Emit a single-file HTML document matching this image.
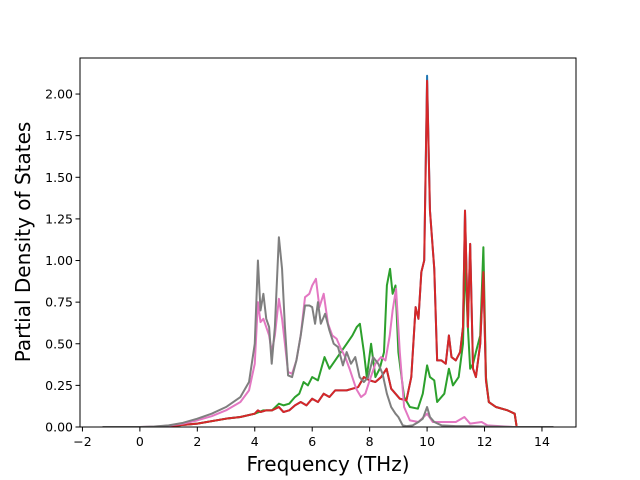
<!DOCTYPE html>
<html><head><meta charset="utf-8"><style>body{margin:0;background:#fff}svg{display:block;font-family:"DejaVu Sans","Liberation Sans",sans-serif}</style></head>
<body>
<svg id="chart" width="640" height="480">
<rect x="0" y="0" width="640" height="480" fill="#fff"/>
<defs><clipPath id="clip"><rect x="80" y="58" width="496" height="369"/></clipPath></defs>
<g id="plot" clip-path="url(#clip)"></g>
<g id="axes"></g>
<text x="328" y="471" text-anchor="middle" font-size="20">Frequency (THz)</text>
<text x="0" y="0" transform="translate(30,242) rotate(-90)" text-anchor="middle" font-size="20">Partial Density of States</text>
</svg>
<script>
const xTicks=[-2,0,2,4,6,8,10,12,14];
const yTicks=[0,0.25,0.5,0.75,1.0,1.25,1.5,1.75,2.0];
const yTickLabels=["0.00","0.25","0.50","0.75","1.00","1.25","1.50","1.75","2.00"];
const grayFreq=[-1.3,0,0.5,1,1.5,2,2.5,3,3.5,3.8,4.0,4.11,4.2,4.3,4.4,4.5,4.59,4.7,4.84,4.95,5.05,5.16,5.3,5.45,5.6,5.75,5.9,6.0,6.1,6.2,6.3,6.45,6.6,6.75,6.9,7.07,7.2,7.35,7.5,7.65,7.8,7.95,8.12,8.3,8.45,8.6,8.75,8.9,9.0,9.15,9.3,9.5,9.7,9.85,10.0,10.1,10.25,10.5,11,11.5,12,12.5,13,14.4];
const grayValues=[0,0,0.003,0.01,0.025,0.05,0.08,0.12,0.18,0.27,0.5,1.0,0.7,0.8,0.65,0.6,0.38,0.6,1.14,0.95,0.6,0.31,0.3,0.4,0.55,0.73,0.73,0.72,0.62,0.75,0.62,0.68,0.58,0.5,0.48,0.37,0.45,0.38,0.42,0.3,0.27,0.3,0.42,0.38,0.32,0.2,0.12,0.08,0.06,0.01,0.005,0.01,0.03,0.05,0.12,0.06,0.03,0.01,0.005,0.005,0.003,0.002,0,0];
const pinkFreq=[-1.3,0,0.5,1,1.5,2,2.5,3,3.5,3.8,4.0,4.11,4.2,4.3,4.4,4.5,4.59,4.7,4.84,4.95,5.05,5.16,5.3,5.45,5.6,5.75,5.9,6.0,6.13,6.25,6.4,6.55,6.7,6.85,7.0,7.15,7.3,7.53,7.7,7.85,8.0,8.2,8.4,8.55,8.7,8.8,8.92,9.05,9.2,9.4,9.7,10.0,10.2,10.6,11.0,11.3,11.5,11.9,12.1,13,14.4];
const pinkValues=[0,0,0.002,0.008,0.02,0.04,0.065,0.1,0.15,0.22,0.38,0.75,0.63,0.65,0.6,0.55,0.45,0.55,0.77,0.65,0.5,0.33,0.32,0.4,0.55,0.78,0.8,0.85,0.89,0.72,0.8,0.62,0.55,0.53,0.47,0.42,0.35,0.23,0.18,0.2,0.28,0.38,0.42,0.4,0.55,0.7,0.83,0.45,0.12,0.04,0.03,0.08,0.03,0.03,0.03,0.06,0.02,0.03,0.01,0,0];
const greenFreq=[-1.3,0,0.5,1,2,3,3.5,4.0,4.3,4.6,4.84,5.0,5.2,5.4,5.55,5.7,5.85,6.0,6.2,6.43,6.6,6.8,7.0,7.2,7.4,7.55,7.66,7.8,7.9,8.05,8.2,8.35,8.5,8.6,8.71,8.8,8.9,9.0,9.2,9.4,9.68,9.85,10.0,10.1,10.25,10.35,10.6,10.76,10.9,11.1,11.25,11.32,11.42,11.5,11.6,11.7,11.85,11.96,12.05,12.15,12.4,12.8,13.05,13.12,14.4];
const greenValues=[0,0,0,0.005,0.02,0.05,0.06,0.08,0.1,0.1,0.14,0.13,0.14,0.18,0.2,0.27,0.25,0.3,0.28,0.42,0.35,0.4,0.45,0.5,0.55,0.6,0.62,0.45,0.3,0.5,0.3,0.35,0.45,0.85,0.95,0.8,0.85,0.45,0.18,0.12,0.11,0.2,0.37,0.3,0.28,0.15,0.2,0.35,0.25,0.3,0.5,1.0,0.6,0.35,0.38,0.45,0.55,1.08,0.3,0.15,0.12,0.1,0.08,0,0];
const redFreq=[-1.3,0,0.5,1,2,3,3.5,4.0,4.11,4.2,4.4,4.6,4.84,5.0,5.2,5.4,5.6,5.8,6.0,6.2,6.4,6.6,6.8,7.0,7.2,7.4,7.6,7.8,8.0,8.2,8.4,8.59,8.75,8.9,9.05,9.28,9.45,9.6,9.7,9.8,9.9,10.0,10.1,10.25,10.35,10.5,10.65,10.76,10.85,11.0,11.15,11.25,11.32,11.42,11.5,11.6,11.7,11.85,11.96,12.05,12.15,12.4,12.8,13.05,13.12,14.4];
const redValues=[0,0,0,0.005,0.02,0.05,0.06,0.08,0.1,0.09,0.1,0.1,0.12,0.09,0.1,0.13,0.15,0.13,0.17,0.15,0.2,0.18,0.22,0.22,0.22,0.23,0.24,0.3,0.28,0.27,0.3,0.35,0.23,0.2,0.17,0.16,0.3,0.72,0.65,0.93,1.0,2.08,1.3,0.95,0.4,0.4,0.38,0.55,0.42,0.4,0.45,0.6,1.3,0.6,1.1,0.35,0.3,0.5,0.93,0.28,0.15,0.12,0.1,0.08,0,0];
const blueValues=[0,0,0,0.005,0.02,0.05,0.06,0.08,0.1,0.09,0.1,0.1,0.12,0.09,0.1,0.13,0.15,0.13,0.17,0.15,0.2,0.18,0.22,0.22,0.22,0.23,0.24,0.3,0.28,0.27,0.3,0.35,0.23,0.2,0.17,0.16,0.3,0.72,0.65,0.93,1.0,2.11,1.3,0.95,0.4,0.4,0.38,0.55,0.42,0.4,0.45,0.6,1.3,0.6,1.1,0.35,0.3,0.5,0.93,0.28,0.15,0.12,0.1,0.08,0,0];

const L=80,R=576,T=58,B=427,xMin=-2.085,xMax=15.185,yMin=0,yMax=2.2165;
const xs=v=>L+(v-xMin)/(xMax-xMin)*(R-L);
const ys=v=>B-(v-yMin)/(yMax-yMin)*(B-T);
const NS="http://www.w3.org/2000/svg";
function mk(tag,attrs,parent){const e=document.createElementNS(NS,tag);for(const k in attrs)e.setAttribute(k,attrs[k]);parent.appendChild(e);return e;}
const plot=document.getElementById('plot'),axes=document.getElementById('axes');
const series=[["blue",redFreq,blueValues,"#1f77b4"],["green",greenFreq,greenValues,"#2ca02c"],["red",redFreq,redValues,"#d62728"],["pink",pinkFreq,pinkValues,"#e377c2"],["gray",grayFreq,grayValues,"#7f7f7f"]];
series.forEach(s=>{
  const d=s[1].map((f,i)=>(i?'L':'M')+xs(f).toFixed(2)+','+ys(s[2][i]).toFixed(2)).join('');
  const p=mk('path',{d:d,fill:'none',stroke:s[3],'stroke-width':2,'stroke-linejoin':'round'},plot);
  
  
});
const frame=mk('rect',{x:L,y:T,width:R-L,height:B-T,fill:'none',stroke:'#000','stroke-width':1},axes);


xTicks.forEach(t=>{
  const x=xs(t);
  const tk=mk('line',{x1:x,x2:x,y1:B,y2:B+4.5,stroke:'#000','stroke-width':1},axes);
  
  
  const tx=mk('text',{x:x,y:B+19,'text-anchor':'middle','font-size':'12.5'},axes);
  tx.textContent=(t<0?'\u2212'+(-t):t);
  
  
});
yTicks.forEach((t,i)=>{
  const y=ys(t);
  const tk=mk('line',{x1:L-4.5,x2:L,y1:y,y2:y,stroke:'#000','stroke-width':1},axes);
  
  
  const tx=mk('text',{x:L-7,y:y+4.5,'text-anchor':'end','font-size':'12.5'},axes);
  tx.textContent=yTickLabels[i];
  
  
});
</script>
</body></html>
